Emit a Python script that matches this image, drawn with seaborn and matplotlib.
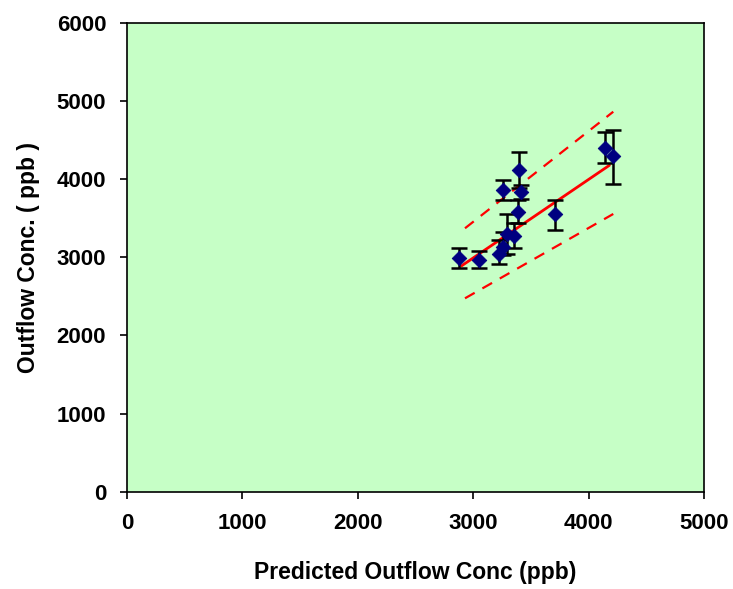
import seaborn as sns
import pandas as pd
import numpy as np
import matplotlib.pyplot as plt

# Values
predicted = [2880, 3053, 3226, 3255, 3296, 3354, 3385, 3261, 3414, 3400, 3712, 4145, 4214]
outflow = [2986, 2964, 3041, 3126, 3297, 3271, 3574, 3860, 3838, 4115, 3553, 4401, 4298]
err_low = [120, 100, 130, 100, 260, 150, 140, 130, 100, 235, 200, 200, 360]
err_high = [135, 115, 180, 200, 255, 160, 160, 125, 80, 235, 180, 205, 330]

fit_x = [2900, 4180]
fit_y = [2890, 4175]
upper_x = [2929, 4214]
upper_y = [3370, 4861]
lower_x = [2929, 4214]
lower_y = [2474, 3553]

df = pd.DataFrame({"Predicted": predicted, "Outflow": outflow})

sns.set_style("ticks")
plt.rcParams["font.family"] = ["Liberation Sans", "DejaVu Sans"]
plt.rcParams["font.weight"] = "bold"
plt.rcParams["text.color"] = "black"
plt.rcParams["axes.labelcolor"] = "black"
plt.rcParams["xtick.color"] = "black"
plt.rcParams["ytick.color"] = "black"

fig = plt.figure(figsize=(7.33, 5.89), dpi=100)
ax = fig.add_axes([0.1733, 0.1652, 0.7871, 0.7963])
ax.set_facecolor("#C6FFC6")

# regression line and band
sns.lineplot(x=fit_x, y=fit_y, ax=ax, color="red", linewidth=2, zorder=2)
for bx, by in [(upper_x, upper_y), (lower_x, lower_y)]:
    sns.lineplot(x=bx, y=by, ax=ax, color="red", linewidth=1.6,
                 linestyle=(0, (5, 4)), zorder=2)

ax.errorbar(predicted, outflow, yerr=[err_low, err_high], fmt="none",
            ecolor="black", elinewidth=1.8, capsize=5.5, capthick=1.8, zorder=3)
sns.scatterplot(data=df, x="Predicted", y="Outflow", ax=ax, marker="D",
                s=55, color="#000080", edgecolor="#000080", zorder=4)

ax.set_xlim(0, 5000)
ax.set_ylim(0, 6000)
ax.set_xticks(range(0, 5001, 1000))
ax.set_yticks(range(0, 6001, 1000))
ax.tick_params(direction="out", length=5, width=1.2, labelsize=16, pad=10)
for lab in ax.get_xticklabels() + ax.get_yticklabels():
    lab.set_fontweight("bold")
for s in ax.spines.values():
    s.set_visible(True)
    s.set_color("black")
    s.set_linewidth(1.2)

ax.set_xlabel("Predicted Outflow Conc (ppb)", fontsize=16.5, fontweight="bold", labelpad=20)
ax.set_ylabel("Outflow Conc. ( ppb )", fontsize=16.5, fontweight="bold", labelpad=12)

plt.savefig("out.png", dpi=100)
plt.close()
